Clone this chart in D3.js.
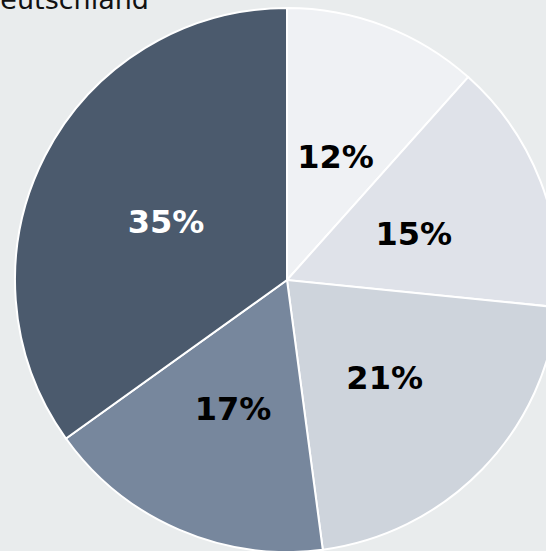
<!DOCTYPE html>
<html>
<head>
<meta charset="utf-8">
<script src="https://cdn.jsdelivr.net/npm/d3@7"></script>
<style>
  html, body { margin: 0; padding: 0; background: #e9eced; }
  svg { display: block; }
</style>
</head>
<body>
<div id="chart"></div>
<script>
// Slices, clockwise from 12 o'clock (shares in %, labels rounded)
const shares = [11.6, 15.0, 21.3, 17.2, 34.9];
const sliceColors = ['#eff1f4', '#dfe2e9', '#ced4dc', '#77879d', '#4b5a6d'];
const labelColors = ['#000', '#000', '#000', '#000', '#fff'];
const title = 'Deutschland';

const width = 546, height = 551;
const cx = 287, cy = 280, radius = 272;

const svg = d3.select('#chart')
    .append('svg')
    .attr('width', width)
    .attr('height', height);

svg.append('rect')
    .attr('width', width)
    .attr('height', height)
    .attr('fill', '#e9eced');

const pie = d3.pie().sort(null).value(d => d);
const arc = d3.arc().innerRadius(0).outerRadius(radius);

const g = svg.append('g').attr('transform', `translate(${cx},${cy})`);

const slices = g.selectAll('.slice')
    .data(pie(shares))
    .enter()
    .append('g')
    .attr('class', 'slice');

slices.append('path')
    .attr('d', arc)
    .attr('fill', (d, i) => sliceColors[i])
    .attr('stroke', '#fff')
    .attr('stroke-width', 2);

slices.append('text')
    .attr('transform', d => `translate(${arc.centroid(d)})`)
    .attr('text-anchor', 'middle')
    .attr('dy', '0.46em')
    .style('font-family', 'Verdana, "DejaVu Sans", sans-serif')
    .style('font-weight', 'bold')
    .style('font-size', '32px')
    .attr('fill', (d, i) => labelColors[i])
    .text(d => Math.round(d.data) + '%');

// title sits partly outside the view, top-left (as in the original)
svg.append('text')
    .attr('x', 149)
    .attr('y', 9)
    .attr('text-anchor', 'end')
    .style('font-family', 'Verdana, "DejaVu Sans", sans-serif')
    .style('font-size', '27px')
    .attr('fill', '#111')
    .text(title);
</script>
</body>
</html>
